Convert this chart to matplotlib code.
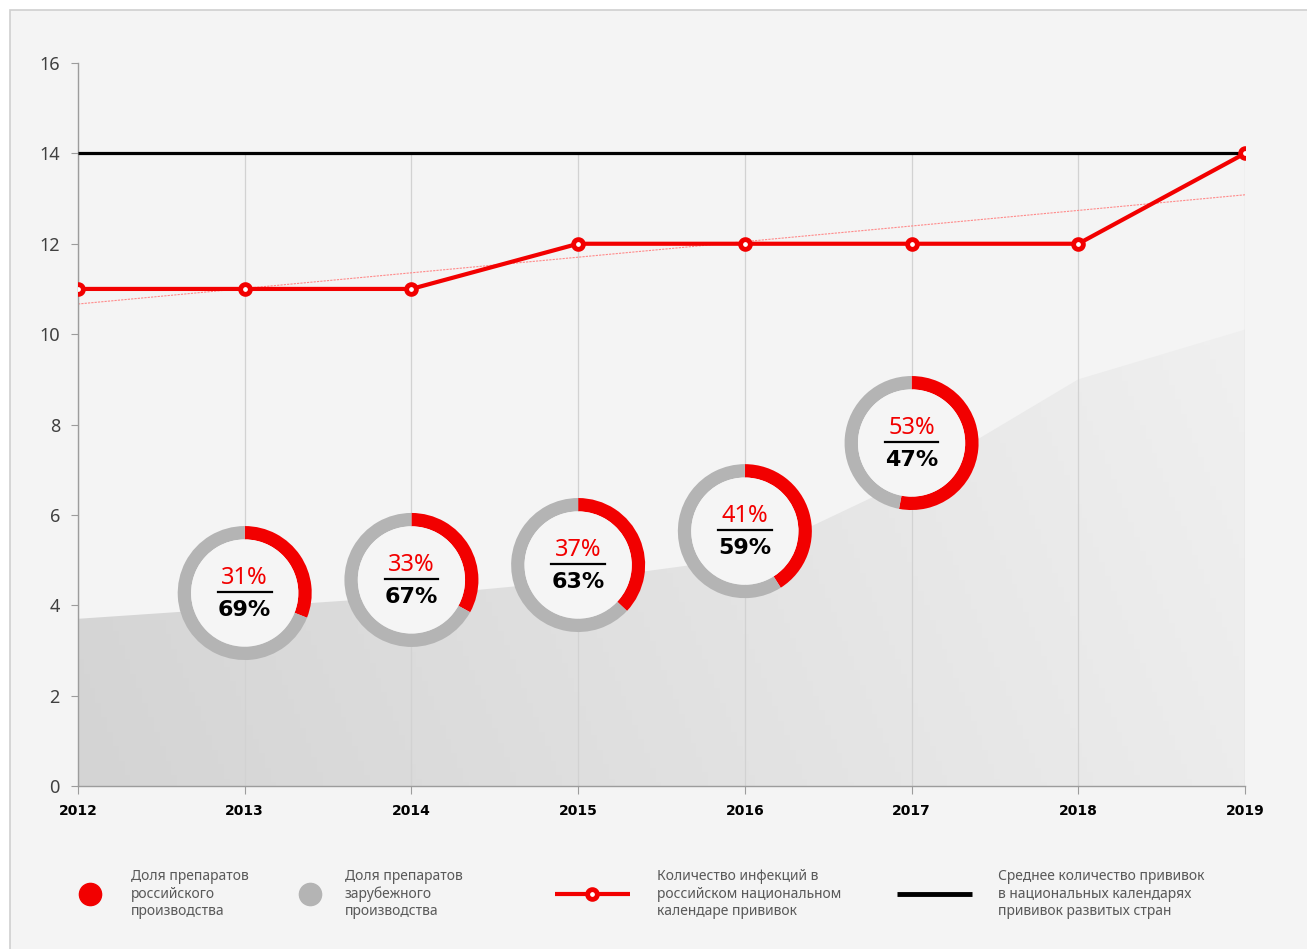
import numpy as np
import matplotlib
matplotlib.use("Agg")
import matplotlib.pyplot as plt
from matplotlib.patches import Rectangle, Polygon, Circle
from matplotlib.colors import LinearSegmentedColormap

plt.rcParams['font.family'] = ['Noto Sans', 'DejaVu Sans']

# данные
years = [2012, 2013, 2014, 2015, 2016, 2017, 2018, 2019]
infections = [11, 11, 11, 12, 12, 12, 12, 14]
developed_avg = [14, 14, 14, 14, 14, 14, 14, 14]
area_vals = [3.7, 3.95, 4.2, 4.55, 5.05, 6.8, 9.0, 10.1]

donut_years = [2013, 2014, 2015, 2016, 2017]
donut_levels = [4.27, 4.56, 4.89, 5.64, 7.59]
russian_share = [31, 33, 37, 41, 53]
foreign_share = [69, 67, 63, 59, 47]

legend_labels = [
    "Доля препаратов\nроссийского\nпроизводства",
    "Доля препаратов\nзарубежного\nпроизводства",
    "Количество инфекций в\nроссийском национальном\nкалендаре прививок",
    "Среднее количество прививок\nв национальных календарях\nпрививок развитых стран",
]

RED = '#f20000'
RING_GRAY = '#b4b4b4'
PANEL = '#f4f4f4'
BOLD_FONT = ['DejaVu Sans']

W, H = 1307, 949
fig = plt.figure(figsize=(W / 100, H / 100), dpi=100, facecolor='white')

# светлая подложка с рамкой
fig.add_artist(Rectangle((10 / W, -0.01), 1.0, (H - 10) / H + 0.01, transform=fig.transFigure,
                         facecolor=PANEL, edgecolor='#cfcfcf', lw=1.2, zorder=-1))

ax_l, ax_r, ax_b, ax_t = 78, 1245, 786, 63
ax = fig.add_axes([ax_l / W, 1 - ax_b / H, (ax_r - ax_l) / W, (ax_b - ax_t) / H])
ax.set_facecolor('none')

# серая область с градиентом
gx, gy = np.meshgrid(np.linspace(0, 1, 200), np.linspace(0, 1, 200))
grad = 0.8 * gx + 0.2 * gy
cmap = LinearSegmentedColormap.from_list('area', ['#d4d4d4', '#f2f2f2'])
img = ax.imshow(grad, extent=[years[0], years[-1], 0, 16], origin='lower',
                cmap=cmap, aspect='auto', zorder=1)
verts = np.column_stack([years + years[::-1], area_vals + [0] * len(years)])
clip = Polygon(verts, closed=True, transform=ax.transData, facecolor='none', edgecolor='none')
ax.add_patch(clip)
img.set_clip_path(clip)

# вертикальная сетка
ax.vlines(years, 0, 14, color='#d2d2d2', lw=0.9, zorder=2)

# средний уровень развитых стран
ax.plot(years, developed_avg, color='black', lw=2.3, zorder=4, solid_capstyle='butt')

# линия тренда
coef = np.polyfit(years, infections, 1)
tx = np.array([years[0], years[-1]])
ax.plot(tx, np.polyval(coef, tx), color='#ff8a8a', lw=0.8, ls=(0, (2, 1)), zorder=3)

# количество инфекций
ax.plot(years, infections, color=RED, lw=3, marker='o', ms=7, mfc='white',
        mec=RED, mew=3.5, zorder=5)

ax.set_xlim(years[0], years[-1])
ax.set_ylim(0, 16)
ax.set_xticks(years, labels=[str(y) for y in years], fontweight='bold', family=BOLD_FONT)
ax.set_yticks(range(0, 17, 2))
for s in ['top', 'right']:
    ax.spines[s].set_visible(False)
for s in ['left', 'bottom']:
    ax.spines[s].set_color('#9c9c9c')
    ax.spines[s].set_linewidth(1)
    ax.spines[s].set_zorder(3)
ax.tick_params(axis='y', length=5, color='#9c9c9c', pad=8, labelsize=13, labelcolor='#404040')
ax.tick_params(axis='x', length=6, color='#9c9c9c', pad=7, labelsize=10, labelcolor='black')

# кольцевые диаграммы
R_PX = 67
px_x = (ax_r - ax_l) / (years[-1] - years[0])
px_y = (ax_b - ax_t) / 16
w, h = 2 * R_PX / px_x, 2 * R_PX / px_y
for yr, lvl, ru, fo in zip(donut_years, donut_levels, russian_share, foreign_share):
    ins = ax.inset_axes([yr - w / 2, lvl - h / 2, w, h], transform=ax.transData, zorder=6)
    ins.pie([ru, fo], colors=[RED, RING_GRAY], startangle=90, counterclock=False,
            radius=1, wedgeprops=dict(width=0.2, edgecolor='none'))
    ins.add_patch(Circle((0, 0), 0.8, facecolor='#f5f5f5', edgecolor='none'))
    ins.set_xlim(-1, 1)
    ins.set_ylim(-1, 1)
    ins.axis('off')
    ins.text(0, 0.22, f"{ru}%", color=RED, ha='center', va='center', fontsize=17)
    ins.plot([-0.4, 0.4], [0.02, 0.02], color='black', lw=1.6)
    ins.text(0, -0.25, f"{fo}%", color='black', ha='center', va='center',
             fontsize=16, fontweight='bold', family=BOLD_FONT)

# легенда
lax = fig.add_axes([0, 0, 1, 1], zorder=10)
lax.set_xlim(0, W)
lax.set_ylim(H, 0)
lax.axis('off')
ly = 894
lax.plot([90], [ly], 'o', color=RED, ms=16)
lax.plot([310], [ly], 'o', color=RING_GRAY, ms=16)
lax.plot([555, 630], [ly, ly], color=RED, lw=3, solid_capstyle='butt')
lax.plot([592], [ly], 'o', mfc='white', mec=RED, ms=7, mew=3.5)
lax.plot([897, 972], [ly, ly], color='black', lw=3.5, solid_capstyle='butt')
for x, txt in zip([131, 345, 657, 998], legend_labels):
    lax.text(x, ly, txt, ha='left', va='center', fontsize=10, color='#595959',
             linespacing=1.2)

fig.savefig('out.png', dpi=100, facecolor='white')
